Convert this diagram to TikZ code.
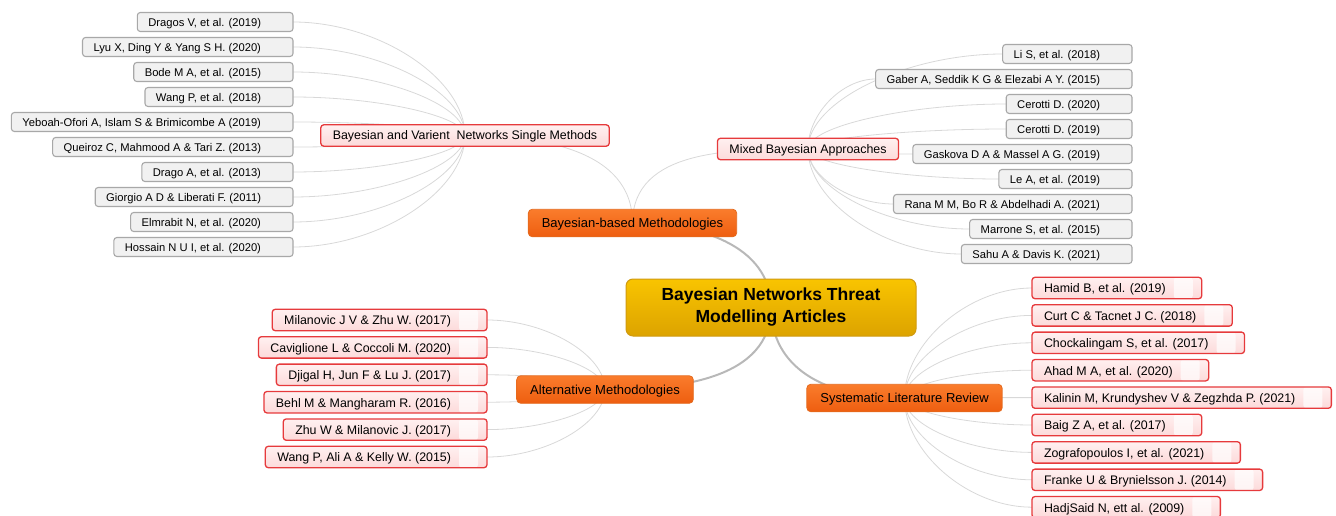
\documentclass[tikz,border=0pt]{standalone}
\usepackage{fontspec}
\setmainfont{Liberation Sans}
\usetikzlibrary{positioning,backgrounds,calc}
\definecolor{twiggray}{HTML}{D8D8D8}
\definecolor{branchgray}{HTML}{B8B8B8}
\definecolor{leafline}{HTML}{A8A8A8}
\definecolor{leaffill}{HTML}{F1F1F1}
\definecolor{redline}{HTML}{E63A3C}
\definecolor{pinktop}{HTML}{FFF0F0}
\definecolor{pinkbot}{HTML}{FCDADA}
\definecolor{orangetop}{HTML}{FA7C2C}
\definecolor{orangebot}{HTML}{EE5E10}
\definecolor{orangeline}{HTML}{E46A1E}
\definecolor{goldtop}{HTML}{F9C400}
\definecolor{goldbot}{HTML}{DCA300}
\definecolor{goldline}{HTML}{D09A10}
\tikzstyle{leaf}=[draw, rounded corners=3pt, outer sep=0pt, inner xsep=0pt, inner ysep=0pt]
\tikzstyle{grayleaf}=[leaf, draw=leafline, fill=leaffill, line width=1.1pt, minimum height=19pt,
  text height=10.3pt, text depth=.8pt, font=\fontsize{11.2}{13}\selectfont,
  execute at begin node={\hspace*{11pt}}, execute at end node={\hspace*{32pt}}]
\tikzstyle{redleaf}=[leaf, draw=redline, top color=pinktop, bottom color=pinkbot, line width=1.3pt,
  minimum height=21.4pt, text height=10.5pt, text depth=.6pt, font=\fontsize{12.4}{14}\selectfont,
  execute at begin node={\hspace*{12pt}}, execute at end node={\hspace*{36pt}},
  path picture={\fill[white,opacity=.7] ([xshift=-28pt]path picture bounding box.north east)
    rectangle ([xshift=-9pt]path picture bounding box.south east);}]
\tikzstyle{sub}=[draw=redline, top color=pinktop, bottom color=pinkbot, line width=1.3pt,
  rounded corners=3pt, outer sep=0pt, inner xsep=12pt, inner ysep=0pt, minimum height=21.4pt,
  text height=10.15pt, text depth=1.25pt, font=\fontsize{12.4}{14}\selectfont]
\tikzstyle{topic}=[draw=orangeline, top color=orangetop, bottom color=orangebot, line width=.8pt,
  rounded corners=4pt, outer sep=0pt, inner xsep=13.5pt, inner ysep=0pt, minimum height=27.5pt,
  text height=10.75pt, text depth=1.45pt, font=\fontsize{13}{15}\selectfont]
\tikzstyle{root}=[draw=goldline, top color=goldtop, bottom color=goldbot, line width=1pt,
  rounded corners=7pt, outer sep=0pt, align=center, minimum width=290pt, minimum height=57pt,
  font=\bfseries\fontsize{17.5}{22}\selectfont]
\tikzstyle{twig}=[color=twiggray, line width=.8pt,
  to path={.. controls ($(\tikztostart)!.5!(\tikztostart |- \tikztotarget)$)
                   and ($(\tikztotarget)!.5!(\tikztostart |- \tikztotarget)$) .. (\tikztotarget)}]
\tikzstyle{branch}=[color=branchgray, line width=2pt]

\begin{document}
\begin{tikzpicture}[x=1pt,y=-1pt,node distance=6pt]
\useasboundingbox (0,0) rectangle (1336,516);

% centre and main topics
\node[root]  (root)    at (771,307.5) {Bayesian Networks Threat\\Modelling Articles};
\node[topic] (based)   at (632.5,223) {Bayesian-based Methodologies};
\node[topic] (alt)     at (605,389.5) {Alternative Methodologies};
\node[topic] (sys)     at (904.5,398) {Systematic Literature Review};
\node[sub]   (varient) at (465,135.5) {Bayesian and Varient\ \ Networks Single Methods};
\node[sub]   (mixed)   at (808,149)   {Mixed Bayesian Approaches};

% single methods
\node[grayleaf,anchor=east] (dragos) at (293,22) {Dragos V, et al. (2019)};
\node[grayleaf,below=of dragos.south east,anchor=north east]   (lyu)      {Lyu X, Ding Y \& Yang S H. (2020)};
\node[grayleaf,below=of lyu.south east,anchor=north east]      (bode)     {Bode M A, et al. (2015)};
\node[grayleaf,below=of bode.south east,anchor=north east]     (wangp)    {Wang P, et al. (2018)};
\node[grayleaf,below=of wangp.south east,anchor=north east]    (yeboah)   {Yeboah-Ofori A, Islam S \& Brimicombe A (2019)};
\node[grayleaf,below=of yeboah.south east,anchor=north east]   (queiroz)  {Queiroz C, Mahmood A \& Tari Z. (2013)};
\node[grayleaf,below=of queiroz.south east,anchor=north east]  (drago)    {Drago A, et al. (2013)};
\node[grayleaf,below=of drago.south east,anchor=north east]    (giorgio)  {Giorgio A D \& Liberati F. (2011)};
\node[grayleaf,below=of giorgio.south east,anchor=north east]  (elmrabit) {Elmrabit N, et al. (2020)};
\node[grayleaf,below=of elmrabit.south east,anchor=north east] (hossain)  {Hossain N U I, et al. (2020)};

% mixed approaches
\node[grayleaf,anchor=east] (lis) at (1132,54) {Li S, et al. (2018)};
\node[grayleaf,below=of lis.south east,anchor=north east]      (gaber)    {Gaber A, Seddik K G \& Elezabi A Y. (2015)};
\node[grayleaf,below=of gaber.south east,anchor=north east]    (cerottia) {Cerotti D. (2020)};
\node[grayleaf,below=of cerottia.south east,anchor=north east] (cerottib) {Cerotti D. (2019)};
\node[grayleaf,below=of cerottib.south east,anchor=north east] (gaskova)  {Gaskova D A \& Massel A G. (2019)};
\node[grayleaf,below=of gaskova.south east,anchor=north east]  (lea)      {Le A, et al. (2019)};
\node[grayleaf,below=of lea.south east,anchor=north east]      (rana)     {Rana M M, Bo R \& Abdelhadi A. (2021)};
\node[grayleaf,below=of rana.south east,anchor=north east]     (marrone)  {Marrone S, et al. (2015)};
\node[grayleaf,below=of marrone.south east,anchor=north east]  (sahu)     {Sahu A \& Davis K. (2021)};

% alternative methodologies
\node[redleaf,anchor=east] (milanovic) at (487,320) {Milanovic J V \& Zhu W. (2017)};
\node[redleaf,below=of milanovic.south east,anchor=north east]  (caviglione) {Caviglione L \& Coccoli M. (2020)};
\node[redleaf,below=of caviglione.south east,anchor=north east] (djigal)     {Djigal H, Jun F \& Lu J. (2017)};
\node[redleaf,below=of djigal.south east,anchor=north east]     (behl)       {Behl M \& Mangharam R. (2016)};
\node[redleaf,below=of behl.south east,anchor=north east]       (zhu)        {Zhu W \& Milanovic J. (2017)};
\node[redleaf,below=of zhu.south east,anchor=north east]        (wangali)    {Wang P, Ali A \& Kelly W. (2015)};

% literature review
\node[redleaf,anchor=west] (hamid) at (1032,288) {Hamid B, et al. (2019)};
\node[redleaf,below=of hamid.south west,anchor=north west]   (curt)     {Curt C \& Tacnet J C. (2018)};
\node[redleaf,below=of curt.south west,anchor=north west]    (chock)    {Chockalingam S, et al. (2017)};
\node[redleaf,below=of chock.south west,anchor=north west]   (ahad)     {Ahad M A, et al. (2020)};
\node[redleaf,below=of ahad.south west,anchor=north west]    (kalinin)  {Kalinin M, Krundyshev V \& Zegzhda P. (2021)};
\node[redleaf,below=of kalinin.south west,anchor=north west] (baig)     {Baig Z A, et al. (2017)};
\node[redleaf,below=of baig.south west,anchor=north west]    (zograf)   {Zografopoulos I, et al. (2021)};
\node[redleaf,below=of zograf.south west,anchor=north west]  (franke)   {Franke U \& Brynielsson J. (2014)};
\node[redleaf,below=of franke.south west,anchor=north west]  (hadjsaid) {HadjSaid N, ett al. (2009)};

\begin{scope}[on background layer]
\path[branch] (based.center) edge[out=0,in=90]   (root.center)
              (root.center)  edge[out=-90,in=0]  (alt.center)
                             edge[out=-90,in=180,out looseness=.8,in looseness=1.5] (sys.center);
\path[twig]   (varient.center) edge[out=0,in=90]  (based.center)
              (mixed.center)   edge[out=180,in=90] (based.center);
\path[twig]   (varient.center) edge (dragos.east) edge (lyu.east) edge (bode.east) edge (wangp.east)
              edge (yeboah.east) edge (queiroz.east) edge (drago.east) edge (giorgio.east)
              edge (elmrabit.east) edge (hossain.east);
\path[twig]   (mixed.center) edge (lis.west) edge (gaber.west) edge (cerottia.west) edge (cerottib.west)
              edge (gaskova.west) edge (lea.west) edge (rana.west) edge (marrone.west) edge (sahu.west);
\path[twig]   (alt.center) edge (milanovic.east) edge (caviglione.east) edge (djigal.east)
              edge (behl.east) edge (zhu.east) edge (wangali.east);
\path[twig]   (sys.center) edge (hamid.west) edge (curt.west) edge (chock.west) edge (ahad.west)
              edge (kalinin.west) edge (baig.west) edge (zograf.west) edge (franke.west) edge (hadjsaid.west);
\end{scope}
\end{tikzpicture}
\end{document}
